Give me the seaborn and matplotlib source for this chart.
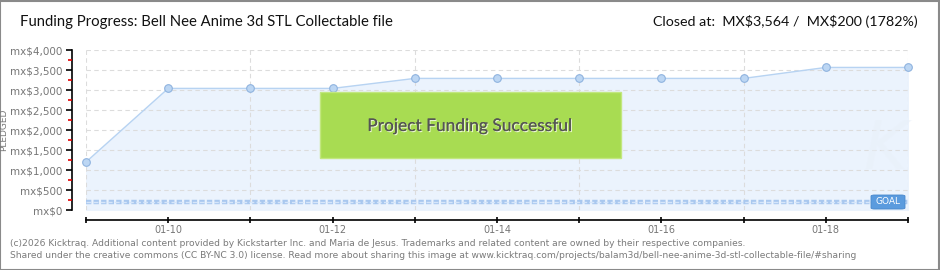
import matplotlib
matplotlib.use("Agg")
import matplotlib.pyplot as plt
import matplotlib.dates as mdates
import matplotlib.patheffects as pe
from matplotlib.patches import Rectangle, FancyBboxPatch
from matplotlib.ticker import MultipleLocator, FuncFormatter
import seaborn as sns
import pandas as pd

# ---- data ----
dates = ["2026-01-09", "2026-01-10", "2026-01-11", "2026-01-12", "2026-01-13",
         "2026-01-14", "2026-01-15", "2026-01-16", "2026-01-17", "2026-01-18",
         "2026-01-19"]
pledged = [1200, 3040, 3040, 3040, 3290, 3290, 3290, 3290, 3290, 3564, 3564]
goal = 200
title = "Funding Progress: Bell Nee Anime 3d STL Collectable file"
closed_text = "Closed at:  MX\\$3,564 /  MX\\$200 (1782%)"
footer1 = ("(c)2026 Kicktraq. Additional content provided by Kickstarter Inc. and Maria de Jesus. "
           "Trademarks and related content are owned by their respective companies.")
footer2 = ("Shared under the creative commons (CC BY-NC 3.0) license. Read more about sharing this image at "
           "www.kicktraq.com/projects/balam3d/bell-nee-anime-3d-stl-collectable-file/#sharing")

df = pd.DataFrame({"date": pd.to_datetime(dates), "pledged": pledged})

sns.set_theme(style="white")
plt.rcParams["font.family"] = ["DejaVu Sans"]

W, H = 940, 270
fig = plt.figure(figsize=(W / 100, H / 100), dpi=100)
fig.patch.set_facecolor("white")

def fx(px):
    return px / W

def fy(py):
    return 1 - py / H

# outer border
fig.add_artist(Rectangle((0.0005, 0.001), 0.998, 0.996, transform=fig.transFigure,
                         fill=False, edgecolor="#8a8a8a", linewidth=1.5))

ax = fig.add_axes([fx(86), fy(210), fx(908 - 86), (210 - 50) / H])
ax.set_facecolor("white")

xmin, xmax = df["date"].min(), df["date"].max()
ax.set_xlim(xmin, xmax)
ax.set_ylim(0, 4000)

# fill under line
ax.fill_between(df["date"], df["pledged"], 0, color="#ebf3fd", zorder=1)

# grid
ax.yaxis.set_major_locator(MultipleLocator(500))
ax.yaxis.set_minor_locator(MultipleLocator(250))
ax.xaxis.set_major_locator(mdates.DayLocator(bymonthday=[10, 12, 14, 16, 18]))
ax.xaxis.set_minor_locator(mdates.DayLocator())
ax.xaxis.set_major_formatter(mdates.DateFormatter("%m-%d"))
ax.grid(True, which="major", axis="y", color="#dcdcdc", linestyle=(0, (4, 3)), linewidth=0.8, zorder=2)
ax.grid(True, which="minor", axis="x", color="#dcdcdc", linestyle=(0, (4, 3)), linewidth=0.8, zorder=2)
ax.set_axisbelow(False)

# goal line
ax.axhline(goal, color="#a9c8ef", linewidth=3.2, linestyle=(0, (1.2, 0.5)), zorder=3)
ax.axhline(goal, color="#d6e6fa", linewidth=1.0, linestyle=(0, (3.5, 1.6)), zorder=3)

# line with markers
sns.lineplot(data=df, x="date", y="pledged", ax=ax, color="#b7d3f2", linewidth=1.0,
             marker="o", markersize=5.5, markerfacecolor="#bcd6f3", markeredgecolor="#8fb3df",
             markeredgewidth=0.8, zorder=5, clip_on=False)
ax.set_xlabel("")
ax.set_ylabel("")

# spines
for s in ["top", "right"]:
    ax.spines[s].set_visible(False)
ax.spines["left"].set_position(("outward", 10))
ax.spines["bottom"].set_position(("outward", 7))
ax.spines["left"].set_color("black")
ax.spines["bottom"].set_color("black")
ax.spines["left"].set_linewidth(1.2)
ax.spines["bottom"].set_linewidth(1.2)

ax.yaxis.set_major_formatter(FuncFormatter(lambda v, p: "mx$" + format(int(v), ",")))
ax.tick_params(axis="y", which="major", direction="out", length=4, width=1.2, color="black",
               labelsize=7.5, labelcolor="#777777", pad=3, left=True)
ax.tick_params(axis="y", which="minor", direction="out", length=3, width=1.2, color="#e00000", left=True)
ax.tick_params(axis="x", which="both", direction="inout", length=5, width=1.2, color="black",
               labelsize=7, labelcolor="#777777", pad=1, bottom=True)
ax.tick_params(axis="x", which="minor", labelbottom=False)

# GOAL badge
fig.add_artist(FancyBboxPatch((fx(871), fy(209)), fx(905 - 871), (209 - 195) / H,
                              boxstyle="round,pad=0,rounding_size=0.004",
                              transform=fig.transFigure, facecolor="#5b9bde", edgecolor="#4a88cc",
                              linewidth=0.6, zorder=10))
fig.text(fx(888), fy(202), "GOAL", color="white", fontsize=6.5, ha="center", va="center",
         zorder=11)

# watermark K
fig.text(fx(885), fy(150), "K", color="#e9f0f9", fontsize=48, ha="center", va="center",
         style="italic", zorder=0.5, alpha=0.5)

# success box
fig.add_artist(Rectangle((fx(320), fy(158)), fx(621 - 320), (158 - 92) / H,
                         transform=fig.transFigure, facecolor="#a8dc52", edgecolor="#c2e77f",
                         linewidth=1, zorder=10))
fig.text(fx(470), fy(126), "Project Funding Successful", color="#555555", fontsize=12.5,
         ha="center", va="center", family=["Lato", "DejaVu Sans"], zorder=11,
         path_effects=[pe.withSimplePatchShadow(offset=(0.8, -0.8), shadow_rgbFace="#e8f5d0", alpha=1.0),
                       pe.Normal()])

# titles
fig.text(fx(20), fy(22), title, fontsize=10.7, color="#111111", ha="left", va="center",
         family=["Lato", "DejaVu Sans"])
fig.text(fx(918), fy(22), closed_text, fontsize=10.3, color="#111111", ha="right", va="center",
         family=["Lato", "DejaVu Sans"])

# PLEDGED label
fig.text(fx(4), fy(130), "PLEDGED", fontsize=6.5, color="#777777", rotation=90,
         ha="center", va="center")

# footer
fig.text(fx(10), fy(243), footer1, fontsize=6.6, color="#7a7a7a", ha="left", va="center")
fig.text(fx(10), fy(256), footer2, fontsize=6.6, color="#7a7a7a", ha="left", va="center")

fig.savefig("out.png", dpi=100, facecolor="white")
